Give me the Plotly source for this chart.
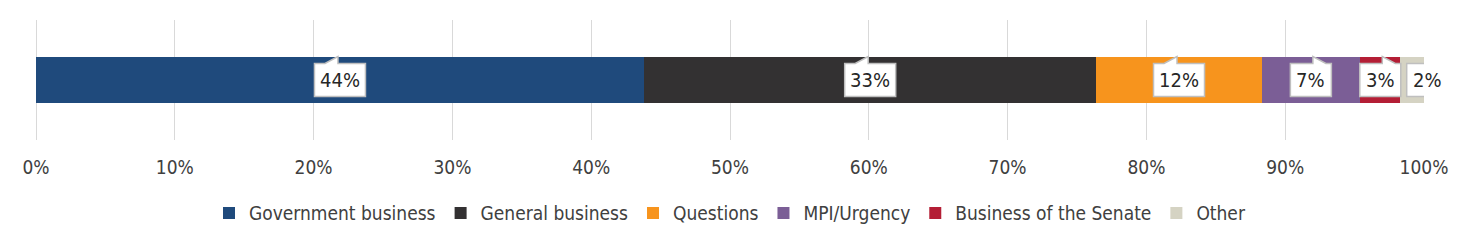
import plotly.graph_objects as go

categories = ["Government business", "General business", "Questions", "MPI/Urgency",
              "Business of the Senate", "Other"]
values = [43.8, 32.6, 11.9, 7.1, 2.9, 1.7]
labels = ["44%", "33%", "12%", "7%", "3%", "2%"]
colors = ["#1F4A7C", "#333132", "#F7941D", "#7B5E96", "#B41E35", "#D5D3C3"]

# callout styling: horizontal shift of box, pointer side (-1 left, 1 right, 0 none)
label_shift = [0, 0, 0, 0, 0, 15]
pointer_side = [-1, -1, -1, 1, 1, 0]

FONT = "DejaVu Sans Condensed, Liberation Sans Narrow, Liberation Sans, sans-serif"

fig = go.Figure()
for name, v, c in zip(categories, values, colors):
    fig.add_trace(go.Bar(
        y=[""], x=[v], name=name, orientation="h",
        marker=dict(color=c, line=dict(width=0)),
        width=0.39, hoverinfo="skip",
    ))

H = 33
cum = 0
for v, lab, sh, ps in zip(values, labels, label_shift, pointer_side):
    mid = cum + v / 2
    w = 51 if len(lab) >= 3 else 41
    l, r, t, b = sh - w / 2, sh + w / 2, H / 2, -H / 2
    if ps == -1:
        notch = f"L{sh-2},{t} L{sh-2},{t+7} L{sh-15},{t} "
    elif ps == 1:
        notch = f"L{sh+15},{t} L{sh+2},{t+7} L{sh+2},{t} "
    else:
        notch = ""
    path = f"M{l},{b} L{l},{t} " + notch + f"L{r},{t} L{r},{b} Z" if ps != 1 else \
           f"M{l},{b} L{l},{t} L{sh+2},{t} L{sh+2},{t+7} L{sh+15},{t} L{r},{t} L{r},{b} Z"
    if ps == -1:
        path = f"M{l},{b} L{l},{t} L{sh-15},{t} L{sh-2},{t+7} L{sh-2},{t} L{r},{t} L{r},{b} Z"
    fig.add_shape(
        type="path", xref="x", yref="y", xsizemode="pixel", ysizemode="pixel",
        xanchor=mid, yanchor=0, path=path,
        fillcolor="white", line=dict(color="#BFBFBF", width=1.5), layer="above",
    )
    fig.add_annotation(
        x=mid, y=0, text=lab, showarrow=False, xshift=sh, yshift=0,
        font=dict(family=FONT, size=20, color="#262626"),
    )
    cum += v

fig.update_layout(
    barmode="stack",
    width=1470, height=245,
    margin=dict(l=36, r=46, t=20, b=105),
    plot_bgcolor="white", paper_bgcolor="white",
    font=dict(family=FONT, size=19, color="#404040"),
    xaxis=dict(range=[0, 100], dtick=10, ticksuffix="%", showgrid=True,
               gridcolor="#D9D9D9", gridwidth=1, zeroline=True, zerolinecolor="#D9D9D9",
               zerolinewidth=1, showline=False,
               ticklabelstandoff=14, tickfont=dict(size=19, color="#404040")),
    yaxis=dict(range=[-0.5, 0.5], showticklabels=False, showgrid=False, zeroline=False),
    legend=dict(orientation="h", x=0.5, xanchor="center", y=-0.61, yanchor="middle",
                font=dict(size=19, color="#404040"), itemwidth=30,
                traceorder="normal"),
    showlegend=True,
)

fig.write_html("out.html")
